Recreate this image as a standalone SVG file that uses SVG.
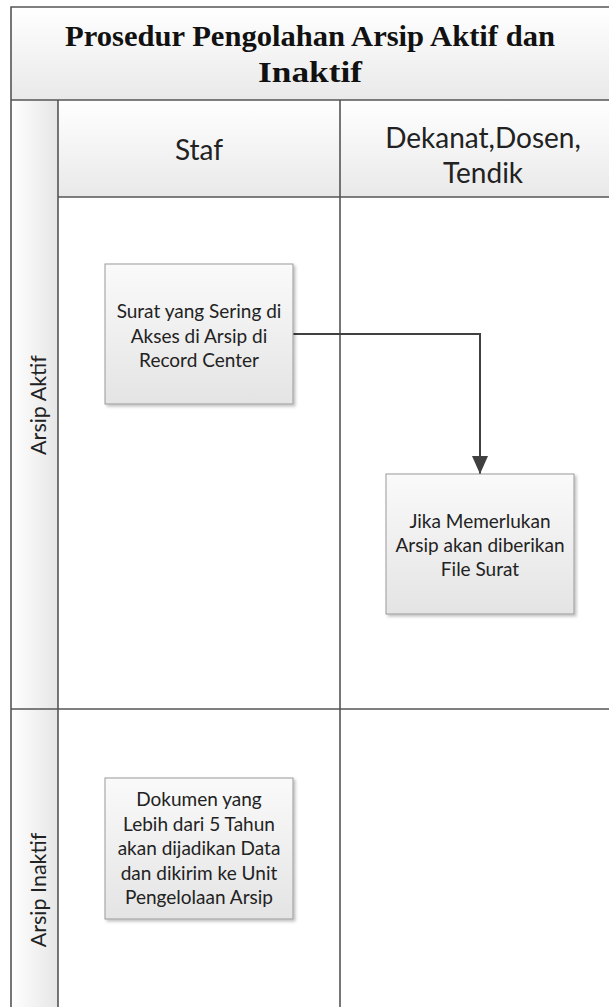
<svg xmlns="http://www.w3.org/2000/svg" width="609" height="1007" viewBox="0 0 609 1007">
<defs>
<linearGradient id="gV" x1="0" y1="0" x2="0" y2="1"><stop offset="0" stop-color="#ffffff"/><stop offset="1" stop-color="#e9e9e9"/></linearGradient>
<linearGradient id="gH" x1="0" y1="0" x2="1" y2="0"><stop offset="0" stop-color="#ffffff"/><stop offset="1" stop-color="#e6e6e6"/></linearGradient>
<linearGradient id="gBox" x1="0" y1="0" x2="0" y2="1"><stop offset="0" stop-color="#fafafa"/><stop offset="1" stop-color="#e4e4e4"/></linearGradient>
<filter id="sh" x="-10%" y="-10%" width="125%" height="125%"><feDropShadow dx="2" dy="2" stdDeviation="1.5" flood-color="#000" flood-opacity="0.25"/></filter>
<marker id="arr" markerWidth="18" markerHeight="16" refX="18" refY="8" orient="auto" markerUnits="userSpaceOnUse" viewBox="0 0 18 16"><path d="M0,0 L18,8 L0,16 Z" fill="#404040"/></marker>
</defs>
<style>
.frame{stroke:#555;stroke-width:1.6;fill:none}
.title{font-family:"Liberation Serif","Times New Roman",serif;font-weight:bold;font-size:30px;fill:#111;text-anchor:middle}
.hdr{font-family:Lato,"Open Sans",sans-serif;font-size:28px;fill:#222;text-anchor:middle}
.lane{font-family:Lato,"Open Sans",sans-serif;font-size:21.5px;fill:#222;text-anchor:middle}
.box{fill:url(#gBox);stroke:#9a9a9a;stroke-width:1;filter:url(#sh)}
.bt{font-family:Lato,"Open Sans",sans-serif;font-size:19px;fill:#222;text-anchor:middle}
.conn{stroke:#404040;stroke-width:2;fill:none}
</style>
<rect x="0" y="0" width="609" height="1007" fill="#fff"/>
<g id="pool">
<rect x="11" y="7" width="620" height="93" fill="url(#gV)"/>
<rect x="11" y="100" width="47" height="920" fill="url(#gH)"/>
<rect x="58" y="100" width="573" height="97" fill="url(#gV)"/>
<path class="frame" d="M11,1010 L11,7 L640,7 M11,100 L640,100 M58,100 L58,1010 M58,197 L640,197 M340,100 L340,1010 M11,709 L640,709"/>
<text class="title" x="310" y="46" textLength="490" lengthAdjust="spacingAndGlyphs">Prosedur Pengolahan Arsip Aktif dan</text>
<text class="title" x="310" y="82" textLength="104" lengthAdjust="spacingAndGlyphs">Inaktif</text>
<text class="hdr" x="199" y="160">Staf</text>
<text class="hdr" x="483" y="148">Dekanat,Dosen,</text>
<text class="hdr" x="483" y="183">Tendik</text>
<text class="lane" transform="translate(46 405) rotate(-90)">Arsip Aktif</text>
<text class="lane" transform="translate(46 890) rotate(-90)">Arsip Inaktif</text>
</g>
<g id="connectors">
<path class="conn" d="M292,334 L480,334 L480,474" marker-end="url(#arr)"/>
</g>
<g id="n1">
<rect class="box" x="105" y="264" width="188" height="140"/>
<text class="bt" x="199" y="318">Surat yang Sering di</text>
<text class="bt" x="199" y="343">Akses di Arsip di</text>
<text class="bt" x="199" y="367">Record Center</text>
</g>
<g id="n2">
<rect class="box" x="386" y="474" width="188" height="140"/>
<text class="bt" x="480" y="528">Jika Memerlukan</text>
<text class="bt" x="480" y="552">Arsip akan diberikan</text>
<text class="bt" x="480" y="576">File Surat</text>
</g>
<g id="n3">
<rect class="box" x="105" y="778" width="188" height="141"/>
<text class="bt" x="199" y="806">Dokumen yang</text>
<text class="bt" x="199" y="831">Lebih dari 5 Tahun</text>
<text class="bt" x="199" y="855">akan dijadikan Data</text>
<text class="bt" x="199" y="880">dan dikirim ke Unit</text>
<text class="bt" x="199" y="904">Pengelolaan Arsip</text>
</g>
</svg>
